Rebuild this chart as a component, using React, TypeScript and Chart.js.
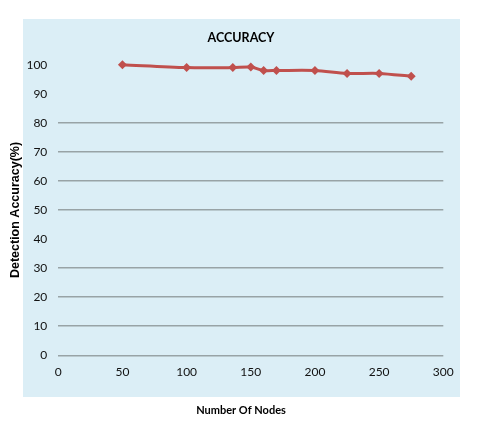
import React, { useEffect, useRef } from "react";
import { Chart, registerables } from "chart.js";

Chart.register(...registerables);

const nodes = [50, 100, 136, 150, 160, 170, 200, 225, 250, 275];
const accuracy = [100, 99, 99, 99.2, 98, 98, 98, 97, 97, 96];
const hiddenGridValues = [40, 90, 100];
const chartTitle = "ACCURACY";
const xTitle = "Number Of Nodes";
const yTitle = "Detection Accuracy(%)";

const NARROW = "Lato, 'DejaVu Sans Condensed', sans-serif";
const WIDE = "'Liberation Sans', Arial, sans-serif";

const bgPlugin = {
  id: "bgBox",
  beforeDraw(chart: any) {
    const { ctx } = chart;
    ctx.save();
    ctx.fillStyle = "#ffffff";
    ctx.fillRect(0, 0, chart.width, chart.height);
    ctx.fillStyle = "#DBEEF6";
    ctx.fillRect(23, 19, 437, 378);
    ctx.restore();
  },
};

export default function App() {
  const ref = useRef<HTMLCanvasElement | null>(null);

  useEffect(() => {
    if (!ref.current) return;
    const chart = new Chart(ref.current, {
      type: "line",
      data: {
        datasets: [
          {
            data: nodes.map((x, i) => ({ x, y: accuracy[i] })),
            borderColor: "#C0504D",
            backgroundColor: "#C0504D",
            borderWidth: 3,
            pointStyle: "rectRot",
            pointRadius: 4.5,
            pointBorderWidth: 0,
            tension: 0.3,
            clip: false as any,
          },
        ],
      },
      plugins: [bgPlugin],
      options: {
        animation: false,
        responsive: false,
        maintainAspectRatio: false,
        layout: { padding: { left: 0, right: 18, top: 0, bottom: 0 } },
        plugins: {
          legend: { display: false },
          tooltip: { enabled: false },
          title: {
            display: true,
            text: chartTitle,
            color: "#000",
            font: { family: NARROW, size: 12.5, weight: "bold", lineHeight: 1.2 },
            padding: { top: 30.5, bottom: 19.2 },
          },
          subtitle: {
            display: true,
            position: "bottom",
            text: xTitle,
            color: "#000",
            font: { family: NARROW, size: 11, weight: "bold", lineHeight: 1.3 },
            padding: { top: 18.2, bottom: 4.2 },
          },
        },
        scales: {
          x: {
            type: "linear",
            min: 0,
            max: 300,
            border: { display: false },
            grid: { display: false, drawTicks: false },
            ticks: {
              stepSize: 50,
              padding: 8.9,
              color: "#111",
              font: { family: NARROW, size: 12, lineHeight: 1.3 },
            },
            afterFit(scale: any) {
              scale.height = 30;
            },
          },
          y: {
            min: 0,
            max: 100,
            border: { display: false },
            grid: {
              drawTicks: false,
              lineWidth: 1.5,
              color: (c: any) =>
                hiddenGridValues.includes(c.tick?.value) ? "rgba(0,0,0,0)" : "#98A3A6",
            },
            ticks: {
              stepSize: 10,
              padding: 11,
              color: "#111",
              font: { family: NARROW, size: 12, lineHeight: 1.2 },
            },
            title: {
              display: true,
              text: yTitle,
              color: "#000",
              font: { family: WIDE, size: 12.5, weight: "bold", lineHeight: 1.2 },
              padding: { top: 7.7, bottom: 4 },
            },
            afterFit(scale: any) {
              scale.width = 58.3;
            },
          },
          y2: {
            position: "right",
            display: true,
            border: { display: false },
            grid: { display: false, drawTicks: false },
            ticks: { display: false },
            afterFit(scale: any) {
              scale.width = 38.7;
            },
          },
        },
      },
    });
    return () => chart.destroy();
  }, []);

  return (
    <div style={{ position: "absolute", left: 0, top: 0, width: 500, height: 422 }}>
      <canvas ref={ref} width={500} height={422} style={{ width: 500, height: 422 }} />
    </div>
  );
}
